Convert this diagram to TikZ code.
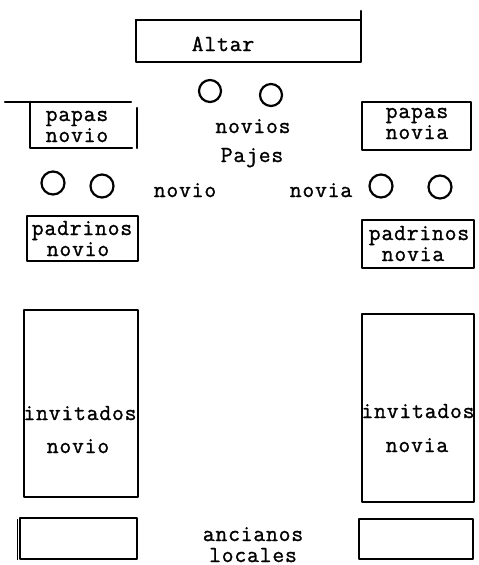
\documentclass[tikz,border=0pt]{standalone}
\usepackage{fontspec}
\setmonofont[LetterSpace=3.5,FakeBold=1.2]{Latin Modern Mono}
\begin{document}
\begin{tikzpicture}[x=1pt,y=-1pt,
  boxline/.style={line width=2.2pt, line cap=round, line join=round},
  seat/.style={line width=2.2pt},
  lbl/.style={font=\fontsize{23}{20}\selectfont\ttfamily, inner sep=0pt, anchor=base}]
\useasboundingbox (0,0) rectangle (479,565);
% Altar
\draw[boxline] (136,20) -- (361,20);
\draw[boxline] (361,11) -- (361,62) -- (136,62) -- (136,20);
\node[lbl] (altar) at (223,51) {Altar};
% novios
\draw[seat] (210,91) circle (11);
\draw[seat] (271,95) circle (11);
\node[lbl] (novios) at (253,133) {novios};
\node[lbl] (pajes) at (252,162) {Pajes};
% papas novio
\draw[boxline] (5,102) -- (131,102);
\draw[boxline] (30,102) -- (30,148) -- (132,148);
\draw[boxline] (137,108) -- (137,148);
\node[lbl] (ppn1) at (77,121) {papas};
\node[lbl] (ppn2) at (77,142) {novio};
% papas novia
\draw[boxline] (362,102) rectangle (471,150);
\node[lbl] (ppa1) at (417,118) {papas};
\node[lbl] (ppa2) at (417,139) {novia};
% pajes seats
\draw[seat] (53,183) circle (11.5);
\draw[seat] (102,186) circle (11.5);
\draw[seat] (381,186) circle (11.5);
\draw[seat] (440,187) circle (11.5);
\node[lbl] (pnovio) at (185,197) {novio};
\node[lbl] (pnovia) at (321,197) {novia};
% padrinos novio
\draw[boxline] (27,216) rectangle (138,261);
\node[lbl] (pdn1) at (82,235) {padrinos};
\node[lbl] (pdn2) at (78,256) {novio};
% padrinos novia
\draw[boxline] (362,220) rectangle (474,268);
\node[lbl] (pda1) at (419,240) {padrinos};
\node[lbl] (pda2) at (413,261) {novia};
% invitados novio
\draw[boxline] (24,310) rectangle (138,497);
\node[lbl] (ivn1) at (80,420) {invitados};
\node[lbl] (ivn2) at (78,453) {novio};
% invitados novia
\draw[boxline] (362,314) rectangle (474,502);
\node[lbl] (iva1) at (418,418) {invitados};
\node[lbl] (iva2) at (417,452) {novia};
% ancianos locales
\draw[boxline] (20,518) rectangle (137,559);
\draw[line width=1pt] (17,519) -- (17,560);
\draw[boxline] (359,519) rectangle (473,559);
\node[lbl] (anc1) at (253,541) {ancianos};
\node[lbl] (anc2) at (253,562) {locales};
\end{tikzpicture}
\end{document}
